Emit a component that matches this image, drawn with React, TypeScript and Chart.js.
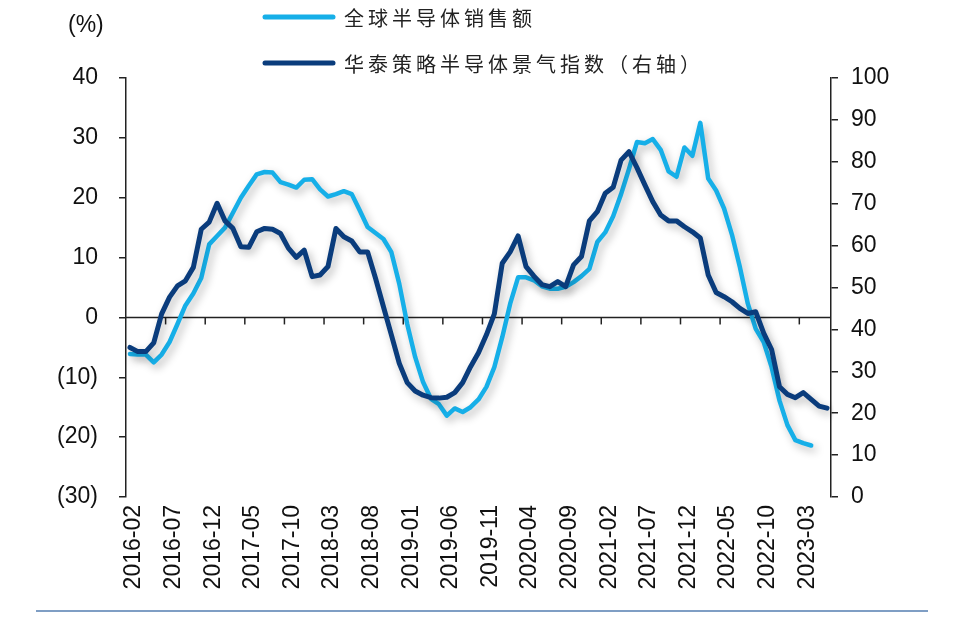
import React, { useEffect, useRef } from 'react';
import { Chart, registerables } from 'chart.js';

Chart.register(...registerables);

const months: string[] = [
  '2016-02', '2016-03', '2016-04', '2016-05', '2016-06', '2016-07', '2016-08', '2016-09', '2016-10', '2016-11', '2016-12',
  '2017-01', '2017-02', '2017-03', '2017-04', '2017-05', '2017-06', '2017-07', '2017-08', '2017-09', '2017-10', '2017-11', '2017-12',
  '2018-01', '2018-02', '2018-03', '2018-04', '2018-05', '2018-06', '2018-07', '2018-08', '2018-09', '2018-10', '2018-11', '2018-12',
  '2019-01', '2019-02', '2019-03', '2019-04', '2019-05', '2019-06', '2019-07', '2019-08', '2019-09', '2019-10', '2019-11', '2019-12',
  '2020-01', '2020-02', '2020-03', '2020-04', '2020-05', '2020-06', '2020-07', '2020-08', '2020-09', '2020-10', '2020-11', '2020-12',
  '2021-01', '2021-02', '2021-03', '2021-04', '2021-05', '2021-06', '2021-07', '2021-08', '2021-09', '2021-10', '2021-11', '2021-12',
  '2022-01', '2022-02', '2022-03', '2022-04', '2022-05', '2022-06', '2022-07', '2022-08', '2022-09', '2022-10', '2022-11', '2022-12',
  '2023-01', '2023-02', '2023-03', '2023-04', '2023-05', '2023-06',
];

// 全球半导体销售额 同比 (%), left axis
const salesYoY: number[] = [
  -6.1, -6.2, -6.2, -7.5, -6.2, -4.1, -1.1, 2.0, 4.0, 6.6, 12.2,
  13.6, 15.0, 17.5, 20.0, 22.0, 23.9, 24.3, 24.2, 22.6, 22.2, 21.7, 23.0,
  23.1, 21.4, 20.2, 20.6, 21.1, 20.6, 17.9, 15.1, 14.1, 13.1, 10.9, 5.6,
  -1.1, -6.6, -10.8, -13.6, -14.5, -16.4, -15.2, -15.8, -15.0, -13.7, -11.6, -8.3,
  -3.3, 2.3, 6.7, 6.7, 6.2, 5.2, 4.8, 4.8, 5.1, 5.9, 6.9, 8.1,
  12.6, 14.2, 16.9, 20.6, 24.8, 29.3, 29.1, 29.8, 28.0, 24.4, 23.5, 28.4,
  27.0, 32.5, 23.2, 21.2, 18.2, 13.8, 8.4, 2.3, -1.9, -4.1, -8.3, -13.9,
  -18.0, -20.5, -21.0, -21.4,
];

// 华泰策略半导体景气指数, right axis
const sentimentIndex: number[] = [
  35.7, 34.7, 34.7, 36.8, 43.7, 47.7, 50.4, 51.6, 54.8, 63.9, 65.6,
  70.1, 65.9, 64.1, 59.7, 59.6, 63.3, 64.1, 63.9, 62.9, 59.4, 57.2, 58.9,
  52.6, 53.0, 55.0, 64.1, 62.1, 61.1, 58.5, 58.5, 52.2, 45.4, 38.7, 31.9,
  27.3, 25.3, 24.3, 23.7, 23.6, 23.8, 24.9, 27.3, 31.1, 34.4, 38.7, 43.7,
  55.8, 58.5, 62.3, 55.0, 52.7, 50.7, 50.2, 51.4, 50.2, 55.4, 57.4, 65.9,
  68.1, 72.5, 73.9, 80.4, 82.4, 78.6, 74.5, 70.5, 67.3, 65.9, 65.9, 64.5,
  63.3, 61.8, 53.0, 48.8, 47.8, 46.6, 45.0, 43.8, 44.2, 39.1, 35.2, 26.3,
  24.5, 23.7, 24.9, 23.3, 21.7, 21.2,
];

const seriesNames: string[] = ['全球半导体销售额', '华泰策略半导体景气指数（右轴）'];
const leftTicks: number[] = [-30, -20, -10, 0, 10, 20, 30, 40];
const rightTicks: number[] = [0, 10, 20, 30, 40, 50, 60, 70, 80, 90, 100];
const unitLabel = '(%)';
const labelEvery = 5;

const LIGHT = '#16AFE8';
const DARK = '#0A3C7C';
const AXIS = '#222222';
const FONT = '"Liberation Sans", Arial, sans-serif';
const CJK = '"Noto Sans CJK SC", sans-serif';

const shadowPlugin = {
  id: 'lineShadow',
  beforeDatasetDraw(chart: any) {
    const c = chart.ctx;
    c.save();
    c.shadowColor = 'rgba(0,0,0,0.28)';
    c.shadowBlur = 8;
    c.shadowOffsetX = 3;
    c.shadowOffsetY = 4;
  },
  afterDatasetDraw(chart: any) {
    chart.ctx.restore();
  },
};

const zeroLinePlugin = {
  id: 'zeroLine',
  beforeDatasetsDraw(chart: any) {
    const { ctx, chartArea, scales } = chart;
    const y0 = scales.y.getPixelForValue(0);
    ctx.save();
    ctx.strokeStyle = AXIS;
    ctx.lineWidth = 1.5;
    ctx.beginPath();
    ctx.moveTo(chartArea.left, y0);
    ctx.lineTo(chartArea.right, y0);
    ctx.stroke();
    const xs = scales.x;
    for (let i = labelEvery; i < months.length; i += labelEvery) {
      const xp = (xs.getPixelForValue(i - 1) + xs.getPixelForValue(i)) / 2;
      ctx.beginPath();
      ctx.moveTo(xp, y0);
      ctx.lineTo(xp, y0 + 7);
      ctx.stroke();
    }
    ctx.restore();
  },
};

const overlayPlugin = {
  id: 'overlay',
  afterDraw(chart: any) {
    const { ctx } = chart;
    ctx.save();
    // unit label
    ctx.fillStyle = '#111';
    ctx.font = `23px ${FONT}`;
    ctx.textAlign = 'left';
    ctx.textBaseline = 'middle';
    ctx.fillText(unitLabel, 68, 26);

    // legend
    const colors = [LIGHT, DARK];
    const ys = [17, 63];
    seriesNames.forEach((name, k) => {
      ctx.strokeStyle = colors[k];
      ctx.lineWidth = 5;
      ctx.lineCap = 'round';
      ctx.beginPath();
      ctx.moveTo(265, ys[k]);
      ctx.lineTo(333, ys[k]);
      ctx.stroke();
      ctx.fillStyle = '#222';
      ctx.font = `20px ${CJK}`;
      ctx.textAlign = 'left';
      ctx.textBaseline = 'middle';
      let x = 344;
      for (const ch of Array.from(name)) {
        ctx.fillText(ch, x, ys[k] + 1);
        x += 24;
      }
    });

    // bottom rule
    ctx.strokeStyle = '#7F9EC4';
    ctx.lineWidth = 2;
    ctx.lineCap = 'butt';
    ctx.beginPath();
    ctx.moveTo(36, 611);
    ctx.lineTo(928, 611);
    ctx.stroke();
    ctx.restore();
  },
};

export default function App() {
  const canvasRef = useRef<HTMLCanvasElement | null>(null);

  useEffect(() => {
    const canvas = canvasRef.current;
    if (!canvas) return;
    const chart = new Chart(canvas, {
      type: 'line',
      data: {
        labels: months,
        datasets: [
          {
            label: seriesNames[1],
            data: sentimentIndex,
            yAxisID: 'y1',
            borderColor: DARK,
            backgroundColor: DARK,
            borderWidth: 5,
            pointRadius: 0,
            tension: 0,
            borderJoinStyle: 'round',
            borderCapStyle: 'round',
            order: 0,
          },
          {
            label: seriesNames[0],
            data: salesYoY,
            yAxisID: 'y',
            borderColor: LIGHT,
            backgroundColor: LIGHT,
            borderWidth: 4.5,
            pointRadius: 0,
            tension: 0,
            borderJoinStyle: 'round',
            borderCapStyle: 'round',
            order: 1,
          },
        ],
      },
      options: {
        animation: false,
        responsive: false,
        maintainAspectRatio: false,
        devicePixelRatio: 1,
        layout: { padding: { top: 78, left: 0, right: 0, bottom: 0 } },
        plugins: {
          legend: { display: false },
          tooltip: { enabled: false },
          title: { display: false },
        },
        scales: {
          x: {
            type: 'category',
            offset: true,
            grid: { display: false, drawTicks: false },
            border: { display: false },
            ticks: {
              autoSkip: false,
              maxRotation: 90,
              minRotation: 90,
              padding: 8,
              labelOffset: 4,
              color: '#111',
              font: { family: FONT, size: 23 },
              callback: function (this: any, value: any, index: number) {
                return index % labelEvery === 0 ? months[index] : '';
              },
            },
            afterFit: (s: any) => {
              s.height = 124;
            },
          },
          y: {
            type: 'linear',
            position: 'left',
            min: leftTicks[0],
            max: leftTicks[leftTicks.length - 1],
            afterBuildTicks: (s: any) => {
              s.ticks = leftTicks.map((v) => ({ value: v }));
            },
            grid: {
              display: true,
              drawOnChartArea: false,
              drawTicks: true,
              tickLength: 7,
              color: AXIS,
              lineWidth: 1.5,
            },
            border: { display: true, color: AXIS, width: 1.5 },
            ticks: {
              padding: 21,
              color: '#111',
              font: { family: FONT, size: 23 },
              callback: (v: any) => (Number(v) < 0 ? `(${-Number(v)})` : `${v}`),
            },
            afterFit: (s: any) => {
              s.width = 126;
            },
          },
          y1: {
            type: 'linear',
            position: 'right',
            min: rightTicks[0],
            max: rightTicks[rightTicks.length - 1],
            afterBuildTicks: (s: any) => {
              s.ticks = rightTicks.map((v) => ({ value: v }));
            },
            grid: {
              display: true,
              drawOnChartArea: false,
              drawTicks: true,
              tickLength: 7,
              color: AXIS,
              lineWidth: 1.5,
            },
            border: { display: true, color: AXIS, width: 1.5 },
            ticks: {
              padding: 13,
              color: '#111',
              font: { family: FONT, size: 23 },
            },
            afterFit: (s: any) => {
              s.width = 129;
            },
          },
        },
      },
      plugins: [shadowPlugin, zeroLinePlugin, overlayPlugin],
    } as any);
    return () => {
      chart.destroy();
    };
  }, []);

  return (
    <div style={{ position: 'absolute', left: 0, top: 0, width: 960, height: 621, background: '#fff' }}>
      <canvas ref={canvasRef} width={960} height={621} style={{ display: 'block', width: 960, height: 621 }} />
    </div>
  );
}
